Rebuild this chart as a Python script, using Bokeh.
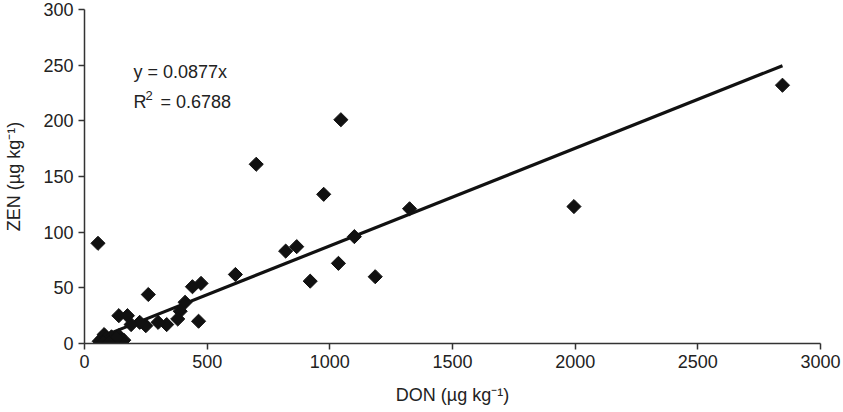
import math
from bokeh.plotting import figure
from bokeh.models import Range1d, Label, FixedTicker
from bokeh.embed import file_html
from bokeh.resources import INLINE

don = [55, 700, 1045, 975, 1325, 1100, 820, 865, 1035, 920, 1185, 1995, 2845,
       615, 475, 440, 410, 390, 380, 465, 260, 335, 300, 250, 225, 190, 140, 175,
       60, 70, 80, 90, 100, 110, 120, 130, 140, 150, 160, 75, 130, 100]
zen = [90, 161, 201, 134, 121, 96, 83, 87, 72, 56, 60, 123, 232,
       62, 54, 51, 37, 29, 22, 20, 44, 17, 19, 16, 19, 17, 25, 25,
       2, 4, 8, 5, 2, 6, 3, 1, 7, 2, 3, 1, 5, 1]
slope = 0.0877
r2 = 0.6788
x_ticks = [0, 500, 1000, 1500, 2000, 2500, 3000]
y_ticks = [0, 50, 100, 150, 200, 250, 300]

p = figure(width=843, height=412, output_backend="svg", toolbar_location=None,
           x_range=Range1d(0, 3000), y_range=Range1d(0, 300),
           min_border_left=84, min_border_right=23, min_border_top=9, min_border_bottom=69)
p.outline_line_color = None
p.xgrid.visible = False
p.ygrid.visible = False

font = "Liberation Sans"
for ax in (p.xaxis[0], p.yaxis[0]):
    ax.major_label_text_font = font
    ax.major_label_text_font_size = "18px"
    ax.major_label_text_color = "#222222"
    ax.axis_label_text_font = font
    ax.axis_label_text_font_size = "18px"
    ax.axis_label_text_font_style = "normal"
    ax.axis_label_text_color = "#222222"
    ax.axis_line_color = "#333333"
    ax.axis_line_width = 1.5
    ax.major_tick_line_color = "#333333"
    ax.major_tick_line_width = 1.5
    ax.major_tick_out = 6
    ax.major_tick_in = 0
    ax.minor_tick_line_color = None

p.xaxis[0].ticker = FixedTicker(ticks=x_ticks)
p.yaxis[0].ticker = FixedTicker(ticks=y_ticks)
p.xaxis[0].axis_label = "DON (µg kg⁻¹)"
p.yaxis[0].axis_label = "ZEN (µg kg⁻¹)"
p.xaxis[0].axis_label_standoff = 14
p.yaxis[0].axis_label_standoff = 16

xmin, xmax = min(don), max(don)
p.line([xmin, xmax], [slope * xmin, slope * xmax], line_color="#111111", line_width=3.2)
p.scatter(don, zen, marker="square", size=10, angle=math.pi / 4,
          fill_color="#111111", line_color="#111111", line_width=1)

common = dict(x_units="screen", y_units="screen", text_font=font,
              text_color="#222222", text_baseline="middle")
p.add_layout(Label(x=49, y=272, text=f"y = {slope}x", text_font_size="18px", **common))
p.add_layout(Label(x=49, y=242, text="R", text_font_size="18px", **common))
p.add_layout(Label(x=61, y=248, text="2", text_font_size="13px", **common))
p.add_layout(Label(x=76, y=242, text=f"= {r2}", text_font_size="18px", **common))

open("out.html", "w").write(file_html(p, INLINE))
